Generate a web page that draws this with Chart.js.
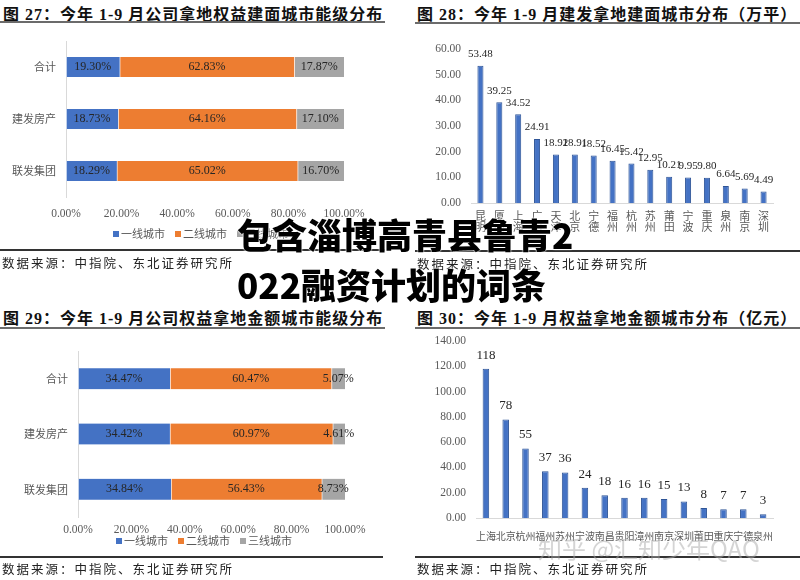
<!DOCTYPE html>
<html>
<head>
<meta charset="utf-8">
<script src="https://cdn.jsdelivr.net/npm/chart.js@4/dist/chart.umd.min.js"></script>
<style>
  body { margin: 0; background: #fff; }
  #page { position: relative; width: 800px; height: 580px; overflow: hidden; background: #fff; }
  canvas { position: absolute; }
  .title { position: absolute; font: bold 16px "Liberation Serif", "Noto Sans CJK SC"; color: #111; white-space: nowrap; letter-spacing: 1px; }
  .uline { position: absolute; height: 2px; background: #6b6b6b; }
  .rule  { position: absolute; height: 1.5px; background: #333; }
  .src   { position: absolute; font: 12.5px "Noto Sans CJK SC"; color: #222; letter-spacing: 2px; white-space: nowrap; }
  .legend { position: absolute; font: 11px "Noto Sans CJK SC"; color: #595959; white-space: nowrap; }
  .legend span.box { display: inline-block; width: 6px; height: 6px; margin-right: 2px; vertical-align: 1px; }
  .legend span.item { margin-right: 10px; }
  .big { position: absolute; font: 900 35px "Noto Sans CJK SC"; color: #000; white-space: nowrap;
         text-shadow: 0 0 2px #fff, 0 0 2px #fff; z-index: 5; }
  .wm { position: absolute; font: 24px "Noto Sans CJK SC"; color: rgba(170,170,170,0.5); white-space: nowrap; z-index: 4; }
</style>
</head>
<body>
<div id="page">
  <div class="title" style="left:3px; top:1px;">图 27：今年 1-9 月公司拿地权益建面城市能级分布</div>
  <div class="uline" style="left:0; top:21px; width:385px;"></div>
  <div class="title" style="left:417px; top:1px;">图 28：今年 1-9 月建发拿地建面城市分布（万平）</div>
  <div class="uline" style="left:415px; top:22px; width:385px;"></div>
  <div class="title" style="left:3px; top:305px;">图 29：今年 1-9 月公司权益拿地金额城市能级分布</div>
  <div class="uline" style="left:0; top:327px; width:385px;"></div>
  <div class="title" style="left:417px; top:305px;">图 30：今年 1-9 月权益拿地金额城市分布（亿元）</div>
  <div class="uline" style="left:415px; top:327px; width:385px;"></div>

  <canvas id="c1" width="400" height="200" style="left:0; top:30px;"></canvas>
  <canvas id="c2" width="400" height="200" style="left:400px; top:40px;"></canvas>
  <canvas id="c3" width="400" height="195" style="left:0; top:340px;"></canvas>
  <canvas id="c4" width="400" height="220" style="left:400px; top:330px;"></canvas>

  <div class="legend" id="lg1" style="left:113px; top:225px;"></div>
  <div class="legend" id="lg3" style="left:116px; top:532px;"></div>

  <div class="rule" style="left:0; top:249px; width:385px;"></div>
  <div class="src" style="left:2px; top:253px;">数据来源：中指院、东北证券研究所</div>
  <div class="rule" style="left:415px; top:250px; width:385px;"></div>
  <div class="src" style="left:417px; top:254px;">数据来源：中指院、东北证券研究所</div>
  <div class="rule" style="left:0; top:556px; width:383px;"></div>
  <div class="src" style="left:2px; top:559px;">数据来源：中指院、东北证券研究所</div>
  <div class="rule" style="left:415px; top:556px; width:385px;"></div>
  <div class="src" style="left:417px; top:559px;">数据来源：中指院、东北证券研究所</div>

  <div class="wm" style="left:538px; top:530px;">知乎 @汇知少年QAQ</div>
  <div class="big" style="left:237px; top:208px;">包含淄博高青县鲁青2</div>
  <div class="big" style="left:237px; top:258px;">022融资计划的词条</div>
</div>
<script>
// ═══ 数据 ═══
const tierNames   = ['一线城市', '二线城市', '三线城市'];
const tierColors  = ['#4472C4', '#ED7D31', '#A5A5A5'];
const companies   = ['合计', '建发房产', '联发集团'];

// 图27 权益建面能级占比 (%)
const areaTier1 = [19.30, 18.73, 18.29];
const areaTier2 = [62.83, 64.16, 65.02];
const areaTier3 = [17.87, 17.10, 16.70];

// 图29 权益金额能级占比 (%)
const amtTier1 = [34.47, 34.42, 34.84];
const amtTier2 = [60.47, 60.97, 56.43];
const amtTier3 = [5.07, 4.61, 8.73];

// 图28 建发拿地建面 (万平)
const areaCities = [['昆','明'], ['厦','门'], ['上','海'], ['广','州'], ['天','津'], ['北','京'], ['宁','德'], ['福','州'],
                    ['杭','州'], ['苏','州'], ['莆','田'], ['宁','波'], ['重','庆'], ['泉','州'], ['南','京'], ['深','圳']];
const areaValues = [53.48, 39.25, 34.52, 24.91, 18.92, 18.91, 18.52, 16.45, 15.42, 12.95, 10.21, 9.95, 9.80, 6.64, 5.69, 4.49];

// 图30 权益拿地金额 (亿元)
const amtCities = ['上海', '北京', '杭州', '福州', '苏州', '宁波', '南昌', '贵阳', '漳州', '南京', '深圳', '莆田', '重庆', '宁德', '泉州'];
const amtValues = [118, 78, 55, 37, 36, 24, 18, 16, 16, 15, 13, 8, 7, 7, 3];

const serif = '"Liberation Serif", "Noto Sans CJK SC"';
const tickColor = '#595959';

// 数据标签 (无 datalabels 插件，自己画)
function makeLabels(mode, fmt, font, offset) {
    return {
        id: 'valueLabels',
        afterDatasetsDraw(chart) {
            const ctx = chart.ctx;
            ctx.save();
            ctx.font = font;
            ctx.fillStyle = '#262626';
            ctx.textAlign = 'center';
            chart.data.datasets.forEach((ds, di) => {
                chart.getDatasetMeta(di).data.forEach((bar, i) => {
                    const txt = fmt(ds.data[i]);
                    if (mode === 'center') {
                        const p = bar.getCenterPoint();
                        ctx.textBaseline = 'middle';
                        ctx.fillText(txt, p.x, p.y);
                    } else {
                        ctx.textBaseline = 'bottom';
                        ctx.fillText(txt, bar.x, bar.y - offset);
                    }
                });
            });
            ctx.restore();
        }
    };
}

function buildLegend(id) {
    document.getElementById(id).innerHTML = tierNames.map((n, i) =>
        `<span class="item"><span class="box" style="background:${tierColors[i]}"></span>${n}</span>`).join('');
}

function stackedChart(canvasId, series, yWidth, padTop, padRight, xHeight, barH, tickPad) {
    new Chart(document.getElementById(canvasId), {
        type: 'bar',
        data: {
            labels: companies,
            datasets: series.map((d, i) => ({
                label: tierNames[i],
                data: d,
                backgroundColor: tierColors[i],
                borderColor: '#ffffff',
                borderWidth: { left: 1, right: 0, top: 0, bottom: 0 },
                borderSkipped: false,
                barThickness: barH
            }))
        },
        options: {
            indexAxis: 'y',
            responsive: false,
            animation: false,
            layout: { padding: { top: padTop, right: padRight, bottom: 0, left: 0 } },
            scales: {
                x: {
                    stacked: true, min: 0, max: 100,
                    ticks: { stepSize: 20, color: tickColor, font: { family: serif, size: 11.5 }, padding: tickPad,
                             callback: v => v.toFixed(2) + '%' },
                    grid: { display: false }, border: { display: false },
                    afterFit: s => { s.height = xHeight; }
                },
                y: {
                    stacked: true,
                    ticks: { color: tickColor, font: { family: '"Noto Sans CJK SC"', size: 11 }, padding: 2 },
                    grid: { display: false }, border: { color: '#d9d9d9' },
                    afterFit: s => { s.width = yWidth; }
                }
            },
            plugins: { legend: { display: false }, tooltip: { enabled: false } }
        },
        plugins: [makeLabels('center', v => v.toFixed(2) + '%', '12px ' + serif)]
    });
}

function columnChart(canvasId, labels, values, yMax, yStep, yWidth, padTop, padRight, xHeight, pct, tickPad, xFont, xLine, lblFont, lblFmt, lblOff) {
    new Chart(document.getElementById(canvasId), {
        type: 'bar',
        data: {
            labels: labels,
            datasets: [{
                data: values,
                backgroundColor: '#4472C4',
                borderColor: '#2F5597',
                borderWidth: 1,
                categoryPercentage: 1,
                barPercentage: pct
            }]
        },
        options: {
            responsive: false,
            animation: false,
            layout: { padding: { top: padTop, right: padRight, bottom: 0, left: 0 } },
            scales: {
                x: {
                    ticks: { color: tickColor, font: { family: '"Noto Sans CJK SC"', size: xFont, lineHeight: xLine },
                             padding: tickPad, autoSkip: false, maxRotation: 0, minRotation: 0 },
                    grid: { display: false }, border: { color: '#d9d9d9' },
                    afterFit: s => { s.height = xHeight; }
                },
                y: {
                    min: 0, max: yMax,
                    ticks: { stepSize: yStep, color: tickColor, font: { family: serif, size: 11.5 }, padding: 2,
                             callback: v => v.toFixed(2) },
                    grid: { display: false }, border: { display: false },
                    afterFit: s => { s.width = yWidth; }
                }
            },
            plugins: { legend: { display: false }, tooltip: { enabled: false } }
        },
        plugins: [makeLabels('top', lblFmt, lblFont, lblOff)]
    });
}

stackedChart('c1', [areaTier1, areaTier2, areaTier3], 66, 11, 56, 33, 20, 2);
stackedChart('c3', [amtTier1, amtTier2, amtTier3], 78, 11, 55, 18, 21, -2);
columnChart('c2', areaCities, areaValues, 60, 10, 71, 7, 27, 37, 0.32, -1, 11, 1.0,
            '11px ' + serif, v => v.toFixed(2), 6);
columnChart('c4', amtCities, amtValues, 140, 20, 76, 11, 27, 32, 0.33, 4, 10, 1.2,
            '13px ' + serif, v => String(v), 7);

buildLegend('lg1');
buildLegend('lg3');
</script>
</body>
</html>
